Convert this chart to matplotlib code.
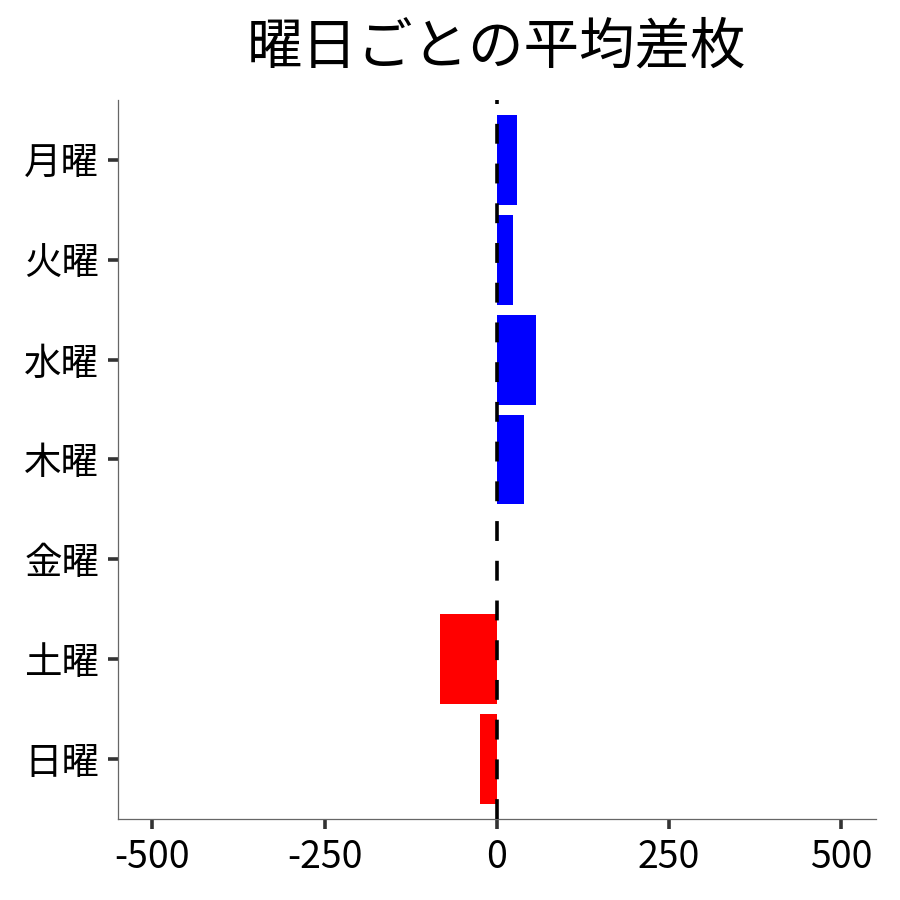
import matplotlib
matplotlib.use("Agg")
import matplotlib.pyplot as plt

plt.rcParams['font.family'] = ['Noto Sans CJK JP', 'DejaVu Sans']

days = ["月曜", "火曜", "水曜", "木曜", "金曜", "土曜", "日曜"]
diff = [29, 23, 57, 39, 0, -82, -25]
xticks = [-500, -250, 0, 250, 500]
xtick_labels = ["-500", "-250", "0", "250", "500"]

colors = ["blue" if v >= 0 else "red" for v in diff]

fig = plt.figure(figsize=(9, 9), dpi=100)
ax = fig.add_axes([0.131, 0.09, 0.842, 0.799])

ax.barh(range(len(days)), diff, height=0.9, color=colors, zorder=2)
ax.axvline(0, color="black", linewidth=2.6, linestyle=(0, (5.5, 5.5)), zorder=3)

ax.set_xlim(-550, 550)
ax.set_ylim(6.6, -0.6)
ax.set_yticks(range(len(days)))
ax.set_yticklabels(days)
ax.set_xticks(xticks)
ax.set_xticklabels(xtick_labels)

ax.tick_params(axis="both", labelsize=27, length=7.5, width=2.6, color="#333333", pad=6)

for side in ["top", "right"]:
    ax.spines[side].set_visible(False)
for side in ["left", "bottom"]:
    ax.spines[side].set_color("#666666")
    ax.spines[side].set_linewidth(0.9)

ax.set_title("曜日ごとの平均差枚", fontsize=40, pad=26)

fig.savefig("out.png", dpi=100)
